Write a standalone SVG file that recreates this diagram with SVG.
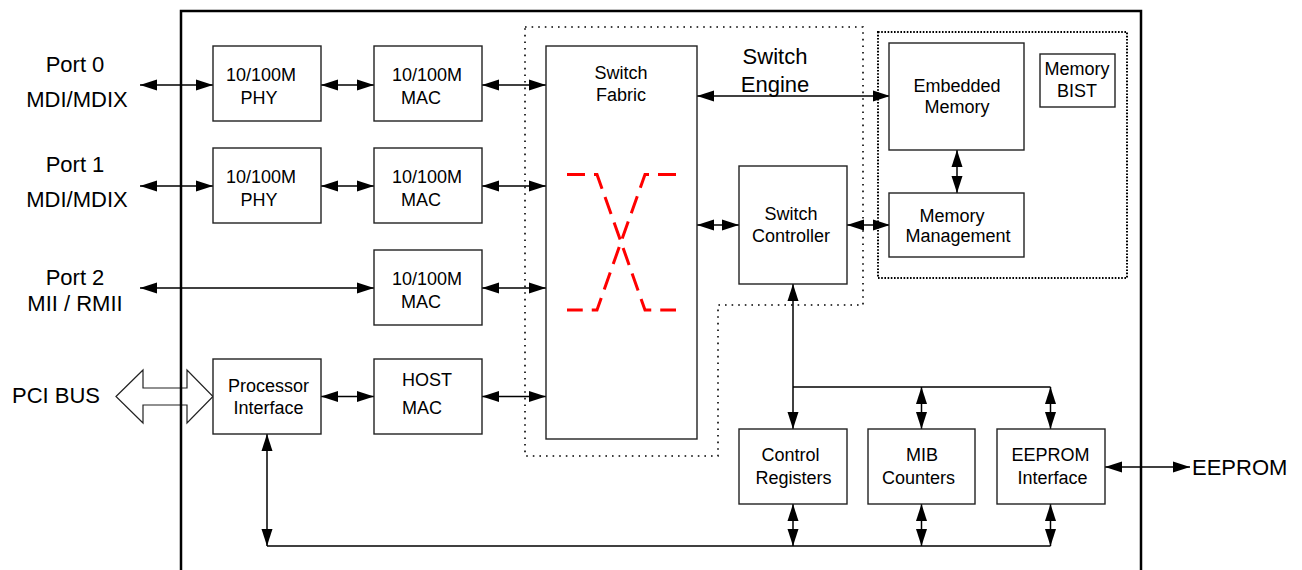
<svg xmlns="http://www.w3.org/2000/svg" width="1302" height="570" viewBox="0 0 1302 570">
<defs>
<style>
.box{fill:#fff;stroke:#222;stroke-width:1.4}
.t{font-family:"Liberation Sans",Arial,sans-serif;font-size:18px;fill:#000;text-anchor:middle}
.lbl{font-family:"Liberation Sans",Arial,sans-serif;font-size:22px;fill:#000;text-anchor:middle}
.c{fill:none;stroke:#000;stroke-width:1.5}
.cc{fill:none;stroke:#000;stroke-width:1.5;marker-start:url(#ah);marker-end:url(#ah)}
</style>
<marker id="ah" markerUnits="userSpaceOnUse" markerWidth="18" markerHeight="12" refX="17" refY="6" orient="auto-start-reverse" viewBox="0 0 18 12">
<path d="M0,0.5 L17,6 L0,11.5 Z" fill="#000"/>
</marker>
</defs>
<rect width="1302" height="570" fill="#fff"/>

<!-- region outlines -->
<path d="M525,27 H863 V305 H718 V456 H525 Z" fill="none" stroke="#000" stroke-width="1.6" stroke-dasharray="1.6 5"/>
<rect x="878" y="32" width="249" height="246" fill="none" stroke="#000" stroke-width="2" stroke-dasharray="1.6 1.6"/>

<!-- PCI BUS hollow arrow -->
<path d="M116,396.5 L143,370 V388 H187 V370 L213,396.5 L187,423 V405 H143 V423 Z" fill="none" stroke="#222" stroke-width="1.2"/>

<!-- chip frame -->
<path d="M181,575 V11 H1141 V575" fill="none" stroke="#000" stroke-width="2.5"/>

<g id="labels">
<text class="lbl" x="75" y="72">Port 0</text>
<text class="lbl" x="77" y="107">MDI/MDIX</text>
<text class="lbl" x="75" y="172">Port 1</text>
<text class="lbl" x="77" y="207">MDI/MDIX</text>
<text class="lbl" x="75" y="285">Port 2</text>
<text class="lbl" x="75" y="311">MII / RMII</text>
<text class="lbl" x="56" y="403">PCI BUS</text>
<text class="lbl" x="775" y="64">Switch</text>
<text class="lbl" x="775" y="92">Engine</text>
<text class="lbl" x="1192" y="475" style="text-anchor:start">EEPROM</text>
</g>

<g id="connectors">
<line class="cc" x1="140" y1="85" x2="213" y2="85"/>
<line class="cc" x1="321" y1="85" x2="374" y2="85"/>
<line class="cc" x1="482" y1="85" x2="546" y2="85"/>
<line class="cc" x1="140" y1="186" x2="213" y2="186"/>
<line class="cc" x1="321" y1="186" x2="374" y2="186"/>
<line class="cc" x1="482" y1="186" x2="546" y2="186"/>
<line class="cc" x1="140" y1="288" x2="374" y2="288"/>
<line class="cc" x1="482" y1="288" x2="546" y2="288"/>
<line class="cc" x1="321" y1="396.5" x2="374" y2="396.5"/>
<line class="cc" x1="482" y1="396.5" x2="546" y2="396.5"/>
<line class="cc" x1="697" y1="96" x2="890" y2="96"/>
<line class="cc" x1="697" y1="225" x2="739" y2="225"/>
<line class="cc" x1="847" y1="225" x2="890" y2="225"/>
<line class="cc" x1="957" y1="150" x2="957" y2="193"/>
<line class="cc" x1="793" y1="284" x2="793" y2="429"/>
<line class="c" x1="793" y1="387" x2="1050.5" y2="387"/>
<line class="cc" x1="921.5" y1="387" x2="921.5" y2="429"/>
<line class="cc" x1="1050.5" y1="387" x2="1050.5" y2="429"/>
<line class="cc" x1="267" y1="434" x2="267" y2="546"/>
<line class="c" x1="267" y1="546" x2="1050.5" y2="546"/>
<line class="cc" x1="793" y1="504" x2="793" y2="546"/>
<line class="cc" x1="921.5" y1="504" x2="921.5" y2="546"/>
<line class="cc" x1="1050.5" y1="504" x2="1050.5" y2="546"/>
<line class="cc" x1="1105" y1="467" x2="1190" y2="467"/>
</g>

<g id="phy0"><rect class="box" x="213" y="46" width="108" height="75"/><text class="t" x="261" y="81">10/100M</text><text class="t" x="259" y="103.5">PHY</text></g>
<g id="mac0"><rect class="box" x="374" y="46" width="108" height="75"/><text class="t" x="427" y="81">10/100M</text><text class="t" x="421" y="103.5">MAC</text></g>
<g id="phy1"><rect class="box" x="213" y="148" width="108" height="75"/><text class="t" x="261" y="183">10/100M</text><text class="t" x="259" y="205.5">PHY</text></g>
<g id="mac1"><rect class="box" x="374" y="148" width="108" height="75"/><text class="t" x="427" y="183">10/100M</text><text class="t" x="421" y="205.5">MAC</text></g>
<g id="mac2"><rect class="box" x="374" y="250" width="108" height="75"/><text class="t" x="427" y="285">10/100M</text><text class="t" x="421" y="307.5">MAC</text></g>
<g id="proc"><rect class="box" x="213" y="359" width="108" height="75"/><text class="t" x="268.5" y="392">Processor</text><text class="t" x="268.5" y="414">Interface</text></g>
<g id="hostmac"><rect class="box" x="374" y="359" width="108" height="75"/><text class="t" x="427" y="386">HOST</text><text class="t" x="422" y="414">MAC</text></g>

<g id="fabric"><rect class="box" x="546" y="46" width="151" height="393"/><text class="t" x="621" y="79">Switch</text><text class="t" x="621" y="101">Fabric</text>
<path d="M567,174.5 H597 L621,242 L645,310 H676 M676,174.5 H645 L621,242 L597,310 H567" fill="none" stroke="#f00" stroke-width="3" stroke-dasharray="18 9"/></g>

<g id="controller"><rect class="box" x="739" y="166" width="108" height="118"/><text class="t" x="791" y="220">Switch</text><text class="t" x="791" y="242">Controller</text></g>
<g id="embedded"><rect class="box" x="889" y="43" width="135" height="107"/><text class="t" x="957" y="91.5">Embedded</text><text class="t" x="957" y="113">Memory</text></g>
<g id="bist"><rect class="box" x="1040" y="54" width="75" height="53"/><text class="t" x="1077" y="75">Memory</text><text class="t" x="1077" y="97">BIST</text></g>
<g id="memmgmt"><rect class="box" x="889" y="193" width="135" height="64"/><text class="t" x="952" y="221.5">Memory</text><text class="t" x="958" y="242">Management</text></g>
<g id="ctrlregs"><rect class="box" x="739" y="429" width="108" height="75"/><text class="t" x="790.5" y="461">Control</text><text class="t" x="793.5" y="483.5">Registers</text></g>
<g id="mib"><rect class="box" x="868" y="429" width="107" height="75"/><text class="t" x="922" y="461">MIB</text><text class="t" x="918.5" y="483.5">Counters</text></g>
<g id="eepromif"><rect class="box" x="997" y="429" width="108" height="75"/><text class="t" x="1050.5" y="461">EEPROM</text><text class="t" x="1052.5" y="483.5">Interface</text></g>
</svg>
